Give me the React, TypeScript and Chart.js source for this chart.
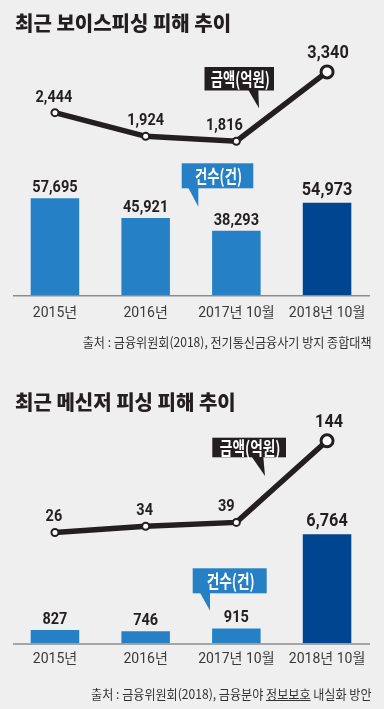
import React, { useEffect, useRef } from 'react';
import { Chart, registerables } from 'chart.js';

Chart.register(...registerables);

// ---- data ----
const categories = ['2015년', '2016년', '2017년 10월', '2018년 10월'];
const voiceCounts = [57695, 45921, 38293, 54973];
const voiceAmounts = [2444, 1924, 1816, 3340];
const messengerCounts = [827, 746, 915, 6764];
const messengerAmounts = [26, 34, 39, 144];

const voiceTitle = '최근 보이스피싱 피해 추이';
const messengerTitle = '최근 메신저 피싱 피해 추이';
const amountLabel = '금액(억원)';
const countLabel = '건수(건)';

// ---- styles ----
const INK = '#231f20';
const BLUE = '#2680c6';
const NAVY = '#00458f';
const BG = '#efefef';
const KR = "'Noto Sans CJK KR', sans-serif";

const fmt = (v: number) => String(v).replace(/\B(?=(\d{3})+(?!\d))/g, ',');

function drawLabel(
  ctx: CanvasRenderingContext2D,
  text: string,
  x: number,
  cy: number,
  size: number,
  family: string,
  color: string,
  sx: number,
  capRatio: number
) {
  ctx.save();
  ctx.translate(x, cy + size * capRatio);
  ctx.scale(sx, 1);
  ctx.font = `bold ${size}px ${family}`;
  ctx.fillStyle = color;
  ctx.textAlign = 'center';
  ctx.textBaseline = 'alphabetic';
  ctx.fillText(text, 0, 0);
  ctx.restore();
}

type Callout = {
  color: string;
  x0: number; y0: number; x1: number; y1: number;
  tri: [number, number][];
  text: string;
  size: number;
  sx: number;
};

type PanelCfg = {
  counts: number[];
  amounts: number[];
  barMax: number;
  lineMin: number;
  lineMax: number;
  height: number;
  padBottom: number;
  tickPad: number;
  lineDx: number[];
  callouts: Callout[];
};

function makePlugin(cfg: PanelCfg) {
  return {
    id: 'annot',
    beforeDatasetsDraw(chart: any) {
      const { ctx, chartArea } = chart;
      ctx.save();
      ctx.strokeStyle = '#8c8c8c';
      ctx.lineWidth = 1.5;
      ctx.beginPath();
      ctx.moveTo(13, chartArea.bottom + 0.75);
      ctx.lineTo(370, chartArea.bottom + 0.75);
      ctx.stroke();
      ctx.restore();
    },
    afterDatasetsDraw(chart: any) {
      const { ctx } = chart;
      const lineMeta = chart.getDatasetMeta(0);
      const barMeta = chart.getDatasetMeta(1);
      const last = chart.data.labels.length - 1;
      barMeta.data.forEach((el: any, i: number) => {
        const v = chart.data.datasets[1].data[i];
        const hi = i === last;
        drawLabel(ctx, fmt(v), el.x, el.y - (hi ? 14.5 : 12), hi ? 18.5 : 16.5, 'Roboto', INK, 0.88, 0.355);
      });
      lineMeta.data.forEach((el: any, i: number) => {
        const v = chart.data.datasets[0].data[i];
        const hi = i === last;
        drawLabel(ctx, fmt(v), el.x + cfg.lineDx[i], el.y - (hi ? 20.5 : 17), hi ? 18.5 : 16.5, 'Roboto', INK, 0.88, 0.355);
      });
      cfg.callouts.forEach((c) => {
        ctx.save();
        ctx.fillStyle = c.color;
        ctx.fillRect(c.x0, c.y0, c.x1 - c.x0, c.y1 - c.y0);
        ctx.beginPath();
        ctx.moveTo(c.tri[0][0], c.tri[0][1] - 0.5);
        ctx.lineTo(c.tri[1][0], c.tri[1][1] - 0.5);
        ctx.lineTo(c.tri[2][0], c.tri[2][1]);
        ctx.closePath();
        ctx.fill();
        ctx.restore();
        drawLabel(ctx, c.text, (c.x0 + c.x1) / 2 + 1, (c.y0 + c.y1) / 2, c.size, KR, '#ffffff', c.sx, 0.39);
      });
    },
  };
}

const voicePanel: PanelCfg = {
  counts: voiceCounts,
  amounts: voiceAmounts,
  barMax: 152060,
  lineMin: -1564,
  lineMax: 4041,
  height: 355,
  padBottom: 30,
  tickPad: 9.7,
  lineDx: [-1, 0, -12, 1],
  callouts: [
    { color: INK, x0: 204.5, y0: 67, x1: 274, y1: 90.5, tri: [[248.3, 90.5], [258.3, 90.5], [259, 108.3]], text: amountLabel, size: 18.5, sx: 0.72 },
    { color: BLUE, x0: 181.7, y0: 163.3, x1: 253.3, y1: 188.3, tri: [[188.3, 188.3], [198.3, 188.3], [198.3, 206.7]], text: countLabel, size: 18.5, sx: 0.72 },
  ],
};

const messengerPanel: PanelCfg = {
  counts: messengerCounts,
  amounts: messengerAmounts,
  barMax: 15413,
  lineMin: -116.6,
  lineMax: 202.96,
  height: 354,
  padBottom: 35.7,
  tickPad: 8,
  lineDx: [-1, -1, -10, 2],
  callouts: [
    { color: INK, x0: 212.3, y0: 82.7, x1: 286, y1: 102.3, tri: [[251.7, 102.3], [263.3, 102.3], [265, 121]], text: amountLabel, size: 18.5, sx: 0.74 },
    { color: BLUE, x0: 192.7, y0: 213.3, x1: 266.7, y1: 238.3, tri: [[200, 238.3], [210, 238.3], [210, 255.7]], text: countLabel, size: 18.5, sx: 0.74 },
  ],
};

function PanelChart({ cfg }: { cfg: PanelCfg }) {
  const ref = useRef<HTMLCanvasElement | null>(null);
  useEffect(() => {
    if (!ref.current) return;
    const last = categories.length - 1;
    const chart = new Chart(ref.current, {
      type: 'bar',
      data: {
        labels: categories,
        datasets: [
          {
            type: 'line',
            data: cfg.amounts,
            yAxisID: 'y2',
            borderColor: INK,
            borderWidth: 5.5,
            pointRadius: categories.map((_, i) => (i === last ? 6 : 3.5)),
            pointBorderWidth: categories.map((_, i) => (i === last ? 3 : 2)),
            pointBackgroundColor: '#ffffff',
            pointBorderColor: INK,
            pointHoverRadius: 0,
            tension: 0,
            order: 0,
            clip: false,
          } as any,
          {
            type: 'bar',
            data: cfg.counts,
            yAxisID: 'y',
            backgroundColor: categories.map((_, i) => (i === last ? NAVY : BLUE)),
            barPercentage: 0.535,
            categoryPercentage: 1,
            order: 1,
          } as any,
        ],
      },
      options: {
        animation: false,
        responsive: false,
        events: [],
        layout: { padding: { left: 9.6, right: 11.6, top: 40, bottom: cfg.padBottom } },
        plugins: {
          legend: { display: false },
          tooltip: { enabled: false },
          title: { display: false },
        },
        scales: {
          x: {
            type: 'category',
            offset: true,
            grid: { display: false, drawTicks: false },
            border: { display: false },
            ticks: {
              color: '#3a3a3a',
              font: { family: "'Liberation Sans Narrow', Roboto, 'Noto Sans CJK KR', sans-serif", size: 14 },
              padding: cfg.tickPad,
              maxRotation: 0,
              autoSkip: false,
            },
            afterFit: (s: any) => {
              s.height = 30;
            },
          },
          y: { display: false, min: 0, max: cfg.barMax },
          y2: { display: false, min: cfg.lineMin, max: cfg.lineMax, position: 'right' },
        },
      } as any,
      plugins: [makePlugin(cfg) as any],
    });
    return () => chart.destroy();
  }, [cfg]);
  return <canvas ref={ref} width={384} height={cfg.height} style={{ display: 'block', width: 384, height: cfg.height }} />;
}

const titleStyle: React.CSSProperties = {
  position: 'absolute',
  left: 15,
  margin: 0,
  fontFamily: KR,
  fontWeight: 900,
  fontSize: 20,
  lineHeight: '24px',
  color: INK,
  whiteSpace: 'nowrap',
};

const sourceStyle: React.CSSProperties = {
  position: 'absolute',
  right: 12.3,
  fontFamily: KR,
  fontSize: 13,
  lineHeight: '16px',
  color: '#333333',
  whiteSpace: 'nowrap',
  transform: 'scaleX(0.93)',
  transformOrigin: 'right center',
};

export default function App() {
  return (
    <div style={{ position: 'absolute', left: 0, top: 0, width: 384, height: 709, background: BG, overflow: 'hidden' }}>
      <div style={{ position: 'absolute', left: 0, top: 0, width: 384, height: 355 }}>
        <PanelChart cfg={voicePanel} />
      </div>
      <div style={{ position: 'absolute', left: 0, top: 355, width: 384, height: 354 }}>
        <PanelChart cfg={messengerPanel} />
      </div>
      <div style={{ ...titleStyle, top: 11.1 }}>{voiceTitle}</div>
      <div style={{ ...sourceStyle, top: 333.9 }}>출처 : 금융위원회(2018), 전기통신금융사기 방지 종합대책</div>
      <div style={{ ...titleStyle, top: 390.2 }}>{messengerTitle}</div>
      <div style={{ ...sourceStyle, top: 686.2 }}>
        출처 : 금융위원회(2018), 금융분야 <span style={{ textDecoration: 'underline' }}>정보보호</span> 내실화 방안
      </div>
    </div>
  );
}
